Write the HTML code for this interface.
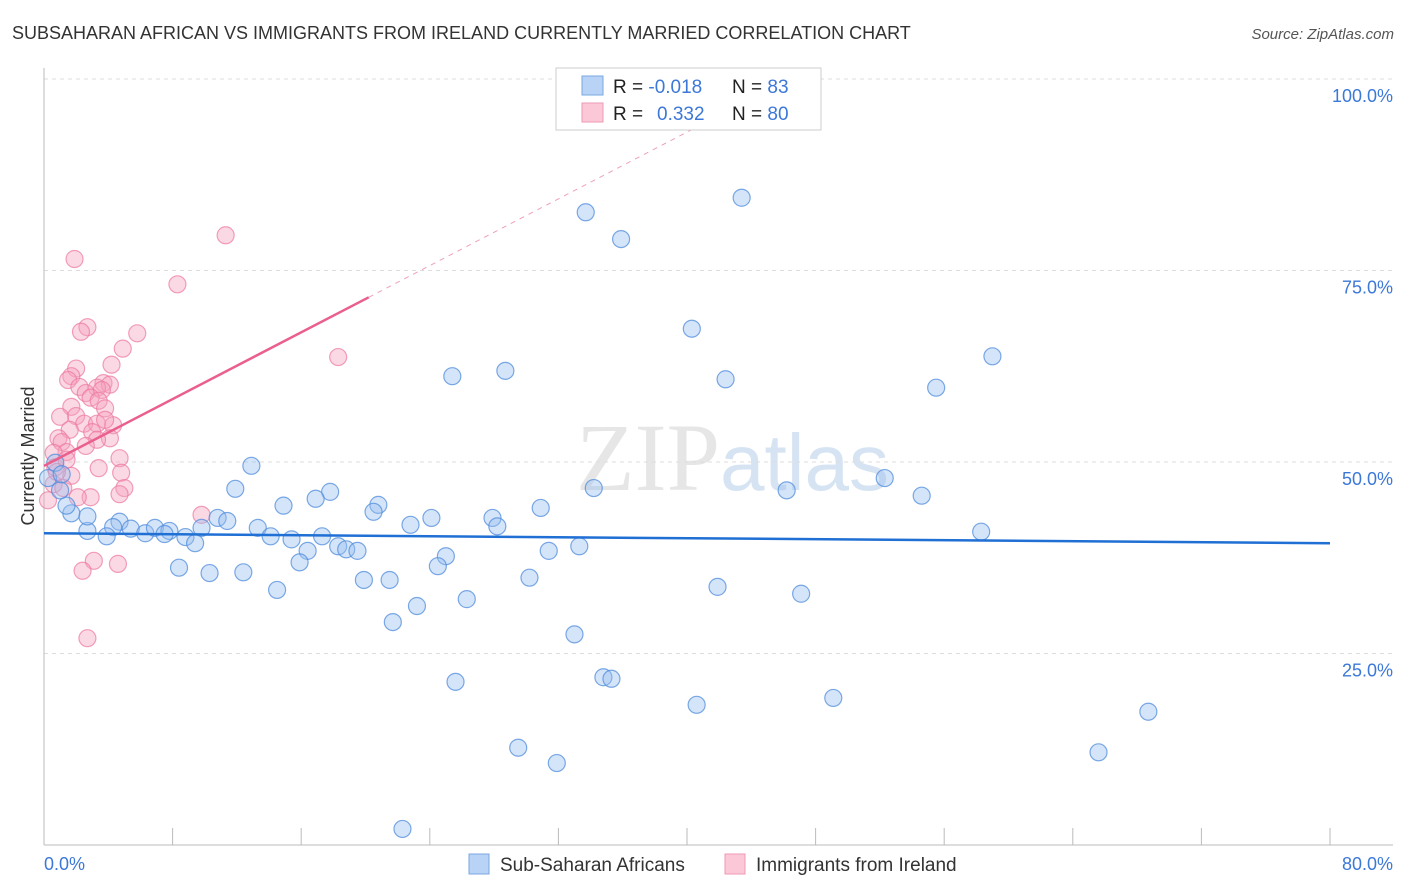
<!DOCTYPE html>
<html><head><meta charset="utf-8"><style>
body{margin:0;background:#fff;font-family:"Liberation Sans",sans-serif;}
#wrap{position:relative;width:1406px;height:892px;overflow:hidden;}
</style></head><body>
<div id="wrap">
<svg id="svg" width="1406" height="892" xmlns="http://www.w3.org/2000/svg">
<text x="12" y="39" font-size="18" fill="#333">SUBSAHARAN AFRICAN VS IMMIGRANTS FROM IRELAND CURRENTLY MARRIED CORRELATION CHART</text>
<text x="1394" y="39" font-size="15" fill="#555" font-style="italic" text-anchor="end">Source: ZipAtlas.com</text>
<text x="720" y="490" font-size="96" fill="#e6e6e6" font-family="Liberation Serif" text-anchor="end">ZIP</text>
<text x="720" y="490" font-size="80" fill="#d5e3f3">atlas</text>
<g id="grid"></g>
<g id="axes"></g>
<g id="pts"></g>
<g id="trend"></g>
<text transform="translate(34,456) rotate(-90)" font-size="18" fill="#333" text-anchor="middle">Currently Married</text>
<text x="44" y="870" font-size="18" fill="#3c78d8">0.0%</text>
<text x="1393" y="870" font-size="18" fill="#3c78d8" text-anchor="end">80.0%</text>
<g>
<rect x="556" y="68" width="265" height="62" fill="#fff" stroke="#ccc"/>
<rect x="582" y="76" width="21" height="19" fill="#b8d3f5" stroke="#7aa7e0"/>
<rect x="582" y="103" width="21" height="19" fill="#fbc8d7" stroke="#ef9ab4"/>
<text x="613" y="93" font-size="19" fill="#222">R = <tspan fill="#3c78d8">-0.018</tspan></text>
<text x="732" y="93" font-size="19" fill="#222">N = <tspan fill="#3c78d8">83</tspan></text>
<text x="613" y="120" font-size="19" fill="#222">R = <tspan fill="#3c78d8" x="657">0.332</tspan></text>
<text x="732" y="120" font-size="19" fill="#222">N = <tspan fill="#3c78d8">80</tspan></text>
</g>
<g>
<rect x="469" y="854" width="20" height="20" fill="#b8d3f5" stroke="#7aa7e0"/>
<text x="500" y="871" font-size="19" fill="#333">Sub-Saharan Africans</text>
<rect x="725" y="854" width="20" height="20" fill="#fbc8d7" stroke="#ef9ab4"/>
<text x="756" y="871" font-size="19" fill="#333">Immigrants from Ireland</text>
</g>
</svg>
</div>
<script>
const yTicks=[25,50,75,100];
const yTickLabels=["25.0%","50.0%","75.0%","100.0%"];
const xTicks=[0,8,16,24,32,40,48,56,64,72,80];
const blueX=[43.4,33.7,35.9,40.3,59.0,25.4,28.7,42.4,55.5,12.9,52.3,11.9,34.2,46.2,54.6,17.8,16.9,14.9,20.8,20.5,30.9,24.1,27.9,28.2,22.8,10.8,11.4,4.7,4.3,5.4,6.3,6.9,7.8,7.5,9.8,8.8,9.4,13.3,14.1,15.4,17.3,16.4,15.9,18.3,18.8,19.5,25.0,31.4,33.3,24.5,58.3,2.7,3.9,2.7,1.7,1.4,1.0,8.4,10.3,12.4,19.9,21.5,30.2,14.5,41.9,47.1,26.3,23.2,21.7,33.0,34.8,35.3,25.6,40.6,49.1,68.7,29.5,31.9,65.6,22.3,0.25,0.7,1.1];
const blueY=[84.5,82.6,79.1,67.4,63.8,61.2,61.9,60.8,59.7,49.5,47.9,46.5,46.6,46.3,45.6,46.1,45.2,44.3,44.4,43.5,44.0,42.7,42.7,41.6,41.8,42.7,42.3,42.2,41.5,41.3,40.7,41.4,41.0,40.6,41.4,40.2,39.4,41.4,40.3,39.9,40.3,38.4,36.9,39.0,38.6,38.4,37.7,38.4,39.0,36.4,40.9,41.0,40.3,42.9,43.3,44.3,46.3,36.2,35.5,35.6,34.6,34.6,34.9,33.3,33.7,32.8,32.1,31.2,29.1,27.5,21.9,21.7,21.3,18.3,19.2,17.4,12.7,10.7,12.1,2.1,47.9,49.9,48.4];
const pinkX=[11.3,1.9,8.3,2.7,2.3,5.8,18.3,4.9,4.2,2.0,1.7,1.5,3.7,2.2,4.1,3.3,3.6,2.6,2.9,3.4,3.8,1.7,1.0,2.0,2.5,3.3,4.3,3.8,1.6,3.0,4.1,3.3,0.9,1.1,2.6,1.4,0.6,4.7,3.4,4.8,1.7,0.7,0.6,1.2,5.0,4.7,2.9,2.1,9.8,3.1,2.4,4.6,2.7,0.25,0.8,1.4];
const pinkY=[79.6,76.5,73.2,67.6,67.0,66.8,63.7,64.8,62.7,62.2,61.2,60.7,60.3,59.8,60.1,59.7,59.4,59.0,58.4,58.0,57.0,57.2,55.9,56.0,55.0,55.0,54.8,55.5,54.2,53.9,53.1,52.9,53.1,52.6,52.1,51.3,51.2,50.5,49.2,48.6,48.2,49.3,47.1,46.6,46.6,45.8,45.4,45.4,43.1,37.1,35.8,36.7,27.0,45.0,48.7,50.3];
const blueTrend=[40.7,39.4];
const pinkTrend=[49.5,71.5];
const NS="http://www.w3.org/2000/svg";
const X=v=>44+v*(1286/80);
const Y=v=>845-v*7.66;
function mk(tag,attrs,parent){const e=document.createElementNS(NS,tag);for(const k in attrs)e.setAttribute(k,attrs[k]);document.getElementById(parent).appendChild(e);return e;}
yTicks.forEach((t,i)=>{
 const l=mk('line',{x1:44,x2:1393,y1:Y(t),y2:Y(t),stroke:'#ddd','stroke-dasharray':'4,4'},'grid');
 
 
 const tx=mk('text',{x:1393,y:Y(t)+23,'font-size':18,fill:'#3c78d8','text-anchor':'end'},'grid');
 tx.textContent=yTickLabels[i];
 
 
});
const ax=mk('line',{x1:44,x2:44,y1:68,y2:845,stroke:'#bbb'},'axes');


const bx=mk('line',{x1:44,x2:1393,y1:845,y2:845,stroke:'#bbb'},'axes');


xTicks.forEach(t=>{
 const l=mk('line',{x1:X(t),x2:X(t),y1:828,y2:845,stroke:'#bbb'},'axes');
 
 
});
pinkX.forEach((x,i)=>{
 const c=mk('circle',{cx:X(x),cy:Y(pinkY[i]),r:8.5,fill:'rgba(246,160,188,0.4)',stroke:'rgba(236,120,158,0.7)','stroke-width':1.2},'pts');
 
 
});
blueX.forEach((x,i)=>{
 const c=mk('circle',{cx:X(x),cy:Y(blueY[i]),r:8.5,fill:'rgba(150,190,240,0.4)',stroke:'rgba(80,140,220,0.75)','stroke-width':1.2},'pts');
 
 
});
const bl=mk('line',{x1:X(0),x2:X(80),y1:Y(blueTrend[0]),y2:Y(blueTrend[1]),stroke:'#1f6fd4','stroke-width':2.5},'trend');


const slope=(pinkTrend[1]-pinkTrend[0])/20.2;
const pl=mk('line',{x1:X(0),x2:X(20.2),y1:Y(pinkTrend[0]),y2:Y(pinkTrend[1]),stroke:'#ea5f8c','stroke-width':2.5},'trend');


const pd=mk('line',{x1:X(20.2),x2:X(42),y1:Y(pinkTrend[1]),y2:Y(pinkTrend[0]+slope*42),stroke:'#eea0b8','stroke-width':1,'stroke-dasharray':'5,5'},'trend');


</script>
</body></html>
